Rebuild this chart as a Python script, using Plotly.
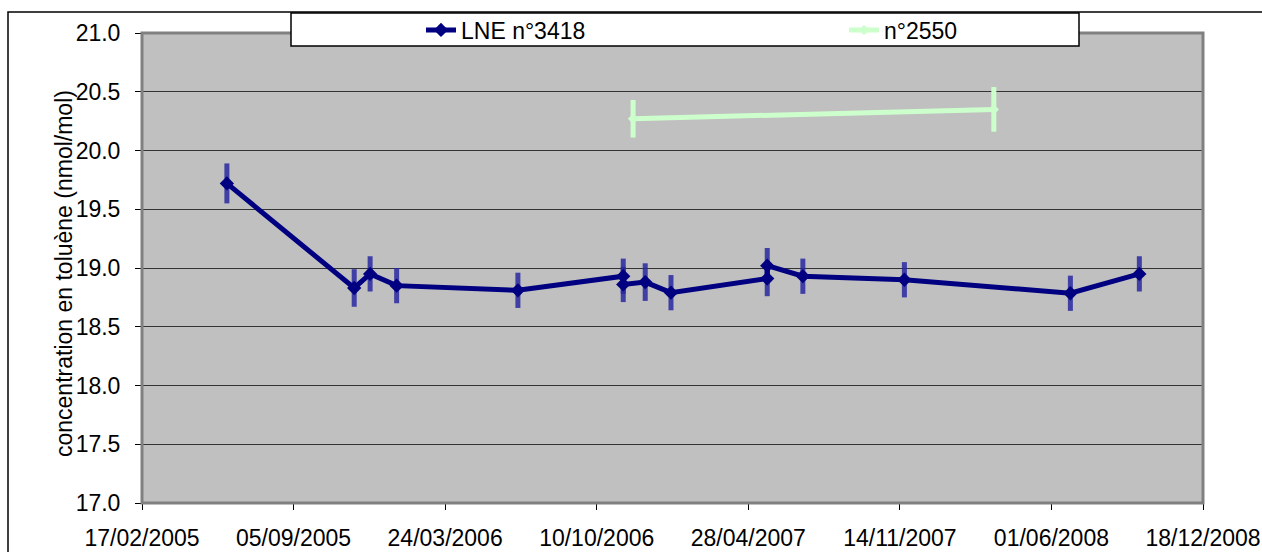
import plotly.graph_objects as go

# Toluene reference gas: LNE n°3418 follow-up measurements
lne_dates = ["2005-06-09", "2005-11-24", "2005-12-15", "2006-01-19", "2006-06-28",
             "2006-11-14", "2006-11-14", "2006-12-13", "2007-01-16", "2007-05-23",
             "2007-05-23", "2007-07-09", "2007-11-20", "2008-06-26", "2008-09-25"]
lne_values = [19.72, 18.83, 18.95, 18.85, 18.81,
              18.93, 18.86, 18.88, 18.79, 18.91,
              19.02, 18.93, 18.90, 18.785, 18.95]
lne_unc = [0.17, 0.16, 0.15, 0.15, 0.15,
           0.15, 0.15, 0.16, 0.15, 0.15,
           0.15, 0.15, 0.15, 0.15, 0.15]

# Cylinder n°2550
c2550_dates = ["2006-11-27", "2008-03-17"]
c2550_values = [20.27, 20.35]
c2550_unc = [0.16, 0.19]

y_ticks = [17.0, 17.5, 18.0, 18.5, 19.0, 19.5, 20.0, 20.5, 21.0]
x_start, x_end = "2005-02-17", "2008-12-18"
y_title = "concentration en toluène (nmol/mol)"

FONT = "Liberation Sans, Arial, sans-serif"
FS = 23
W, H = 1262, 552
ML, MR, MT, MB = 142, 59, 33, 49
PW, PH = W - ML - MR, H - MT - MB


def px_x(p):
    return (p - ML) / PW


def px_y(p):
    return (H - MB - p) / PH


fig = go.Figure()
fig.add_trace(go.Scatter(
    x=lne_dates, y=lne_values, name="LNE n°3418", mode="lines+markers",
    legend="legend",
    line=dict(color="#000080", width=5),
    marker=dict(symbol="diamond", size=11, color="#000080"),
    error_y=dict(type="data", array=lne_unc, thickness=5, width=0,
                 color="rgba(40,40,160,0.85)"),
))
fig.add_trace(go.Scatter(
    x=c2550_dates, y=c2550_values, name="n°2550", mode="lines+markers",
    legend="legend2",
    line=dict(color="#ccffcc", width=5),
    marker=dict(symbol="diamond", size=8, color="#ccffcc"),
    error_y=dict(type="data", array=c2550_unc, thickness=5, width=0,
                 color="#ccffcc"),
))

shapes = [
    # outer chart frame
    dict(type="rect", xref="paper", yref="paper", layer="above",
         x0=px_x(8), x1=px_x(W + 20), y0=px_y(H + 20), y1=px_y(12),
         line=dict(color="#000000", width=1.5), fillcolor="rgba(0,0,0,0)"),
    # plot area border
    dict(type="rect", xref="paper", yref="paper", layer="above",
         x0=0, x1=1, y0=0, y1=1,
         line=dict(color="#808080", width=3), fillcolor="rgba(0,0,0,0)"),
    # legend box
    dict(type="rect", xref="paper", yref="paper", layer="above",
         x0=px_x(291), x1=px_x(1079), y0=px_y(46), y1=px_y(13),
         line=dict(color="#000000", width=1.5), fillcolor="#ffffff"),
]

legend_common = dict(orientation="h", yanchor="middle", y=px_y(30),
                     bgcolor="rgba(0,0,0,0)", borderwidth=0,
                     font=dict(family=FONT, size=FS, color="#000000"))

fig.update_layout(
    width=W, height=H,
    margin=dict(l=ML, r=MR, t=MT, b=MB, pad=0, autoexpand=False),
    paper_bgcolor="#ffffff", plot_bgcolor="#c0c0c0",
    font=dict(family=FONT, size=FS, color="#000000"),
    shapes=shapes,
    showlegend=True,
    legend=dict(x=px_x(421), xanchor="left", **legend_common),
    legend2=dict(x=px_x(844), xanchor="left", **legend_common),
    annotations=[dict(text=y_title, textangle=-90, showarrow=False,
                      xref="paper", yref="paper",
                      x=px_x(64), y=px_y(274),
                      xanchor="center", yanchor="middle",
                      font=dict(family=FONT, size=FS, color="#000000"))],
    xaxis=dict(type="date", range=[x_start, x_end], automargin=False,
               tick0=x_start, dtick=200 * 86400000, tickformat="%d/%m/%Y",
               ticks="outside", ticklen=6, tickcolor="#000000", tickwidth=1,
               ticklabelstandoff=8,
               showgrid=False, zeroline=False, showline=False,
               tickfont=dict(family=FONT, size=FS)),
    yaxis=dict(range=[17, 21], tickvals=y_ticks, tickformat=".1f",
               automargin=False,
               ticks="outside", ticklen=6, tickcolor="#000000", tickwidth=1,
               ticklabelstandoff=10,
               showgrid=True, gridcolor="#333333", gridwidth=1,
               zeroline=False, showline=False,
               tickfont=dict(family=FONT, size=FS)),
)

fig.write_html("out.html", config={"displayModeBar": False})
